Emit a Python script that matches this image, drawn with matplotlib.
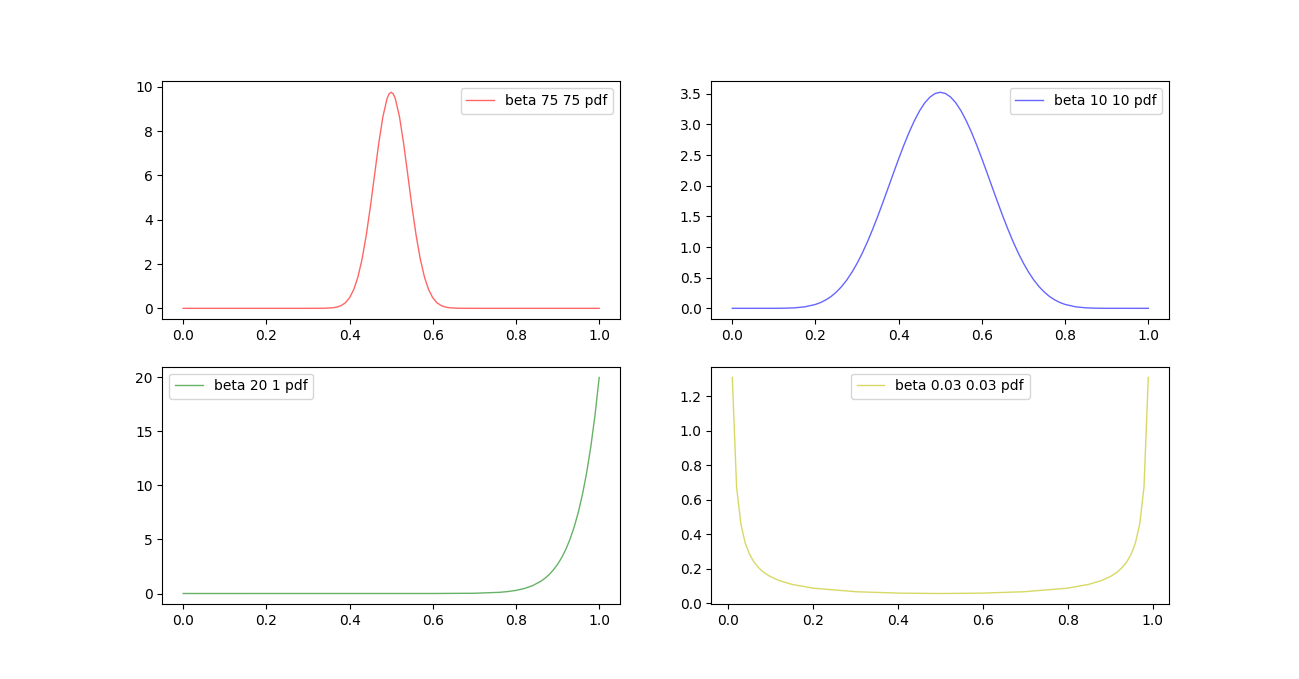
import matplotlib
matplotlib.use("Agg")
import matplotlib.pyplot as plt

# Values
x_b75 = [0.0, 0.30, 0.34, 0.36, 0.37, 0.38, 0.39, 0.40, 0.41, 0.42, 0.43, 0.44,
         0.45, 0.46, 0.47, 0.48, 0.49, 0.495, 0.50, 0.505, 0.51, 0.52, 0.53, 0.54, 0.55,
         0.56, 0.57, 0.58, 0.59, 0.60, 0.61, 0.62, 0.63, 0.64, 0.66, 0.70, 1.0]
y_b75 = [0.0, 0.0, 0.004, 0.026, 0.059, 0.126, 0.252, 0.476, 0.845, 1.41, 2.22, 3.29,
         4.58, 6.01, 7.43, 8.64, 9.46, 9.68, 9.75, 9.68, 9.46, 8.64, 7.43, 6.01, 4.58,
         3.29, 2.22, 1.41, 0.845, 0.476, 0.252, 0.126, 0.059, 0.026, 0.004, 0.0, 0.0]

x_b10 = [0.0, 0.10, 0.125, 0.15, 0.175, 0.20, 0.2125, 0.225, 0.2375, 0.25, 0.2625,
         0.275, 0.2875, 0.30, 0.3125, 0.325, 0.3375, 0.35, 0.3625, 0.375, 0.3875,
         0.40, 0.4125, 0.425, 0.4375, 0.45, 0.4625, 0.475, 0.4875, 0.50,
         0.5125, 0.525, 0.5375, 0.55, 0.5625, 0.575, 0.5875, 0.60, 0.6125,
         0.625, 0.6375, 0.65, 0.6625, 0.675, 0.6875, 0.70, 0.7125, 0.725,
         0.7375, 0.75, 0.7625, 0.775, 0.7875, 0.80, 0.825, 0.85, 0.875, 0.90, 1.0]
y_b10 = [0.0, 0.0004, 0.0021, 0.008, 0.0252, 0.0635, 0.095, 0.138, 0.193, 0.265, 0.353,
         0.460, 0.587, 0.734, 0.901, 1.087, 1.291, 1.508, 1.737, 1.971, 2.208,
         2.440, 2.663, 2.871, 3.058, 3.219, 3.350, 3.445, 3.504, 3.524,
         3.504, 3.445, 3.350, 3.219, 3.058, 2.871, 2.663, 2.440, 2.208,
         1.971, 1.737, 1.508, 1.291, 1.087, 0.901, 0.734, 0.587, 0.460,
         0.353, 0.265, 0.193, 0.138, 0.095, 0.0635, 0.0252, 0.008, 0.0021, 0.0004, 0.0]

x_b20 = [0.0, 0.60, 0.70, 0.76, 0.78, 0.80, 0.82, 0.84, 0.86, 0.87, 0.88, 0.89,
         0.90, 0.91, 0.92, 0.93, 0.94, 0.95, 0.96, 0.97, 0.98, 0.99, 1.0]
y_b20 = [0.0, 0.0012, 0.023, 0.109, 0.178, 0.288, 0.461, 0.728, 1.14, 1.42, 1.76, 2.19,
         2.70, 3.33, 4.10, 5.04, 6.17, 7.55, 9.21, 11.21, 13.62, 16.52, 20.0]

x_b003 = [0.0101, 0.0202, 0.0303, 0.0404, 0.0505, 0.0606, 0.0707, 0.0808, 0.0909,
          0.1010, 0.1212, 0.1515, 0.2020, 0.3030, 0.4040, 0.4949, 0.5051, 0.5960,
          0.6970, 0.7980, 0.8485, 0.8788, 0.8990, 0.9091, 0.9192, 0.9293, 0.9394,
          0.9495, 0.9596, 0.9697, 0.9798, 0.9899]
y_b003 = [1.309, 0.675, 0.460, 0.351, 0.286, 0.242, 0.211, 0.187, 0.169,
          0.154, 0.132, 0.110, 0.0882, 0.0679, 0.0598, 0.0577, 0.0577, 0.0598,
          0.0679, 0.0882, 0.110, 0.132, 0.154, 0.169, 0.187, 0.211, 0.242,
          0.286, 0.351, 0.460, 0.675, 1.309]

labels = ["beta 75 75 pdf", "beta 10 10 pdf", "beta 20 1 pdf", "beta 0.03 0.03 pdf"]
colors = ["r", "b", "g", "y"]
locs = ["upper right", "upper right", "upper left", "upper center"]

fig, axes = plt.subplots(2, 2, figsize=(12.99, 6.79), dpi=100)
series = [(x_b75, y_b75), (x_b10, y_b10), (x_b20, y_b20), (x_b003, y_b003)]
for ax, (xs, ys), lab, c, loc in zip(axes.flat, series, labels, colors, locs):
    ax.plot(xs, ys, color=c, lw=1, alpha=0.6, label=lab)
    ax.legend(loc=loc)

fig.savefig("out.png", dpi=100)
